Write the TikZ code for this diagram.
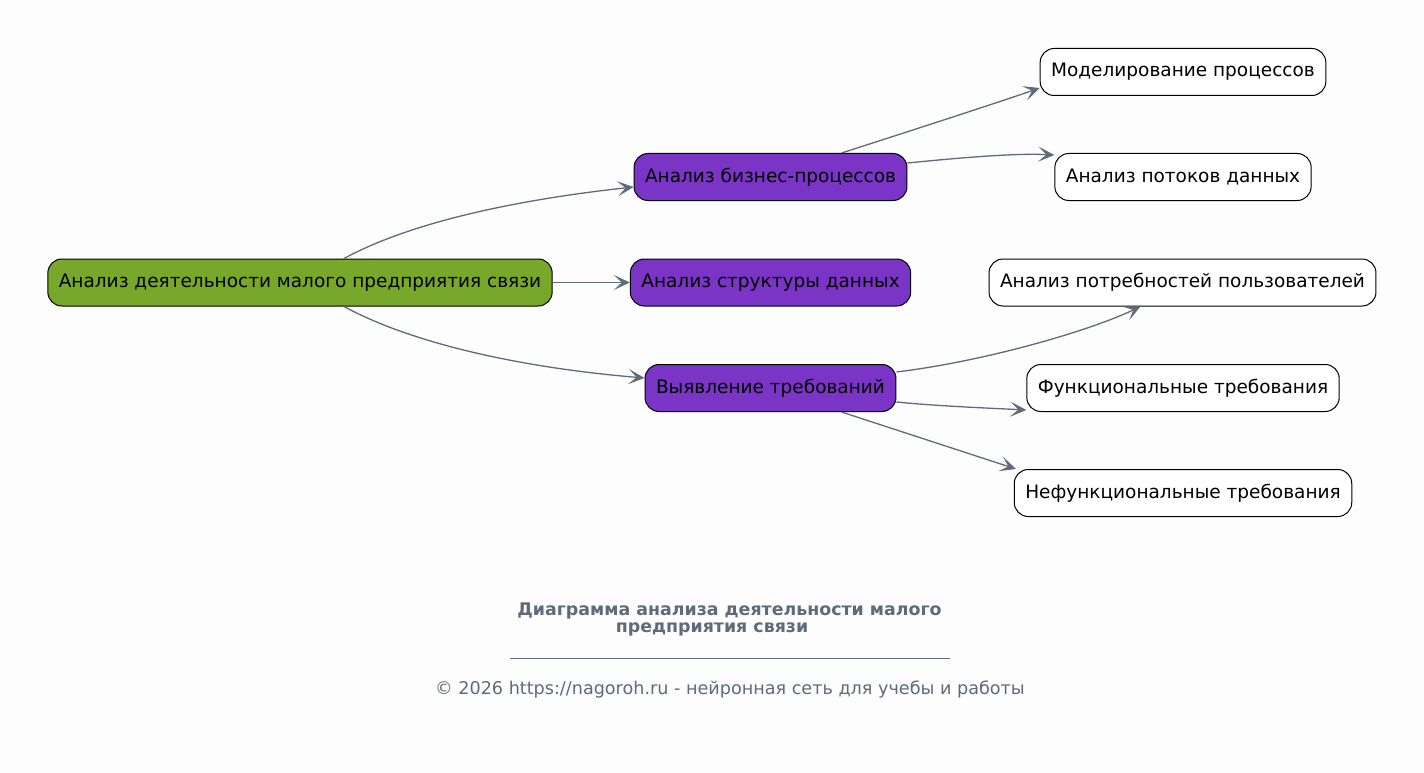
\documentclass[tikz,border=0pt]{standalone}
\usepackage{fontspec}
\setmainfont{DejaVu Sans}
\usetikzlibrary{arrows.meta}
\definecolor{bgc}{HTML}{FDFDFE}
\definecolor{rootc}{HTML}{78A829}
\definecolor{midc}{HTML}{7A34C6}
\definecolor{edgec}{HTML}{5D6B7A}
\tikzset{
  box/.style={draw=black, line width=1pt, rounded corners=14pt, minimum height=47pt, inner xsep=11pt, font=\fontsize{18.5}{21}\selectfont, text=black},
  rootbox/.style={box, fill=rootc},
  midbox/.style={box, fill=midc},
  leafbox/.style={box, fill=white},
  conn/.style={draw=edgec, line width=1.3pt, -{Stealth[length=16pt,width=15pt,inset=8pt]}},
}
\begin{document}
\begin{tikzpicture}[x=1pt,y=-1pt]
\fill[bgc] (0,0) rectangle (1424,773);
\useasboundingbox (0,0) rectangle (1424,773);
\node[rootbox] (root) at (300,282.5) {Анализ деятельности малого предприятия связи};
\node[midbox] (biz) at (770.5,177) {Анализ бизнес-процессов};
\node[midbox] (str) at (770.5,282.5) {Анализ структуры данных};
\node[midbox] (req) at (770.5,388) {Выявление требований};
\node[leafbox] (mod) at (1183,72) {Моделирование процессов};
\node[leafbox] (flow) at (1183,177) {Анализ потоков данных};
\node[leafbox] (user) at (1182.5,282.5) {Анализ потребностей пользователей};
\node[leafbox] (func) at (1183,388) {Функциональные требования};
\node[leafbox] (nfunc) at (1183,493) {Нефункциональные требования};

\draw[conn] ([xshift=44pt]root.north) .. controls +(70,-38) and +(-110,12) .. ([yshift=-10pt]biz.west);
\draw[conn] (root.east) -- (str.west);
\draw[conn] ([xshift=44pt]root.south) .. controls +(70,38) and +(-120,-10) .. ([yshift=10pt]req.west);
\draw[conn] ([xshift=71pt]biz.north) .. controls +(50,-16) and +(-40,14) .. ([yshift=-16pt]mod.west);
\draw[conn] ([yshift=14pt]biz.east) .. controls +(50,-5) and +(-40,-2) .. ([yshift=22pt]flow.west);
\draw[conn] ([yshift=16pt]req.east) .. controls +(90,-11) and +(-50,24) .. ([xshift=-42pt]user.south);
\draw[conn] ([yshift=-14pt]req.east) .. controls +(40,4) and +(-40,-2) .. ([yshift=-22pt]func.west);
\draw[conn] ([xshift=71pt]req.south) -- ([xshift=-167pt]nfunc.north);

\node[font=\bfseries\fontsize{17.4}{20}\selectfont, text=edgec] (t1) at (729.5,611) {Диаграмма анализа деятельности малого};
\node[font=\bfseries\fontsize{17.4}{20}\selectfont, text=edgec] (t2) at (712,629) {предприятия связи};
\draw[edgec, line width=0.8pt] (510,658) -- (950,658);
\node[font=\fontsize{17.6}{20}\selectfont, text=edgec] (foot) at (730,689) {© 2026 https://nagoroh.ru - нейронная сеть для учебы и работы};
\end{tikzpicture}
\end{document}
